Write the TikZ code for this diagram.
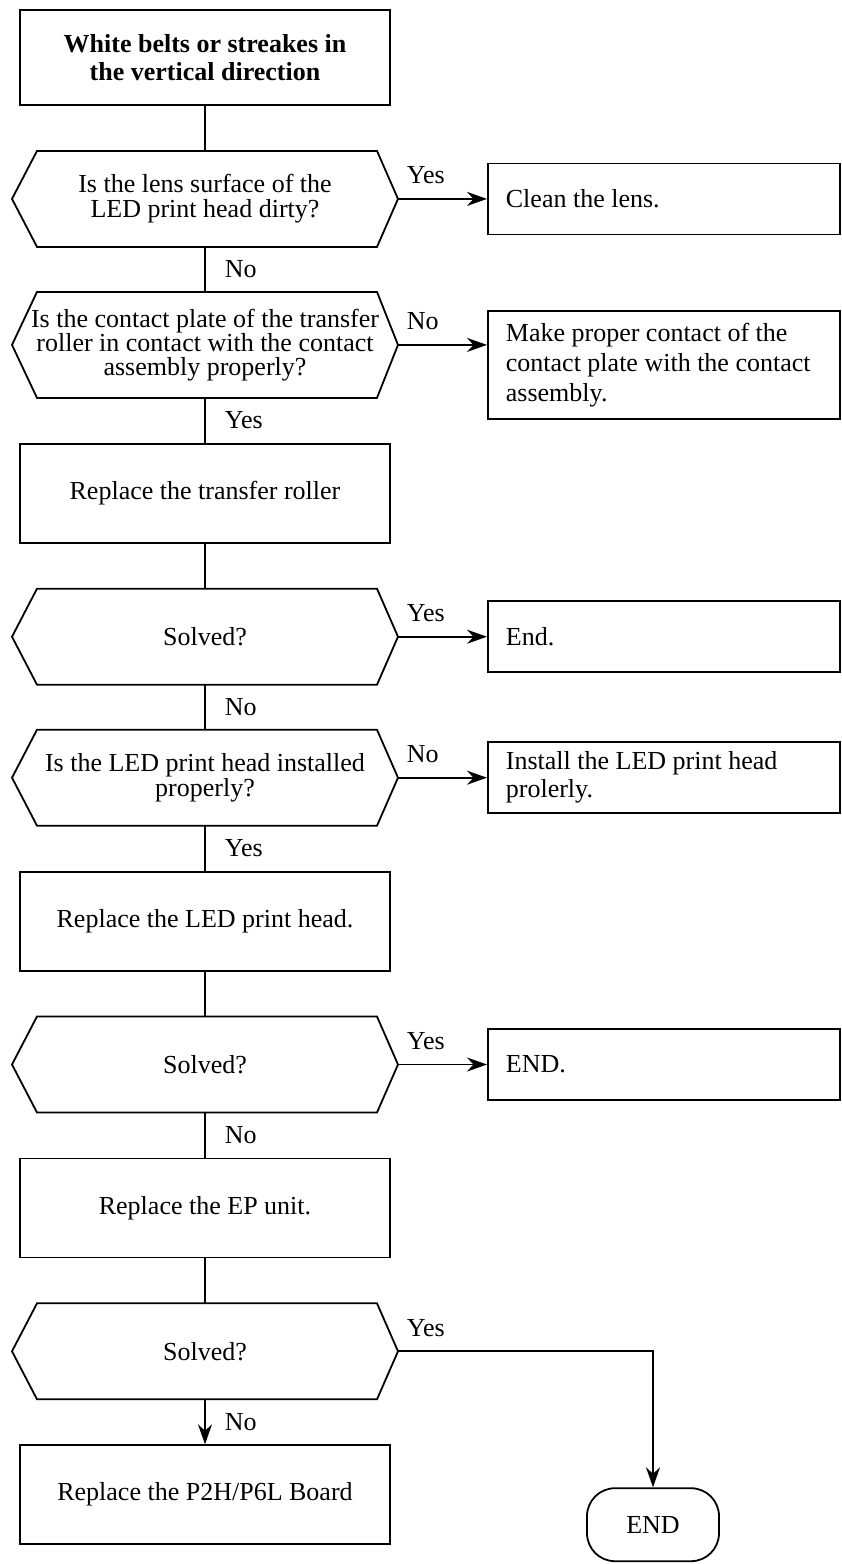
\documentclass[tikz,border=0pt]{standalone}
\usepackage{fontspec}
\setmainfont{Liberation Serif}
\usetikzlibrary{arrows.meta,positioning}

\begin{document}
\begin{tikzpicture}[
    font=\fontsize{13}{14}\selectfont,
    line width=0.9pt,
    topbox/.style={draw, minimum width=185pt, minimum height=47.5pt, align=center, font=\fontsize{13}{14}\selectfont\bfseries},
    procbox/.style={draw, minimum width=185pt, minimum height=49.5pt, align=center},
    query/.style={rectangle, minimum width=193pt, minimum height=48pt, align=center, inner sep=0pt, outer sep=0pt, font=\fontsize{13}{12.5}\selectfont},
    actbox/.style={draw, text width=158pt, inner xsep=9pt, minimum height=35.5pt, align=flush left},
    term/.style={draw, rounded corners=14pt, minimum width=66pt, minimum height=36.5pt},
    lbl/.style={inner sep=0pt},
    arrow/.style={-{Stealth[length=10pt, width=7pt]}}
]
\useasboundingbox (0,0) rectangle (420.5pt,-782pt);

% Main column
\node[topbox] (start) at (102.5pt,-28.75pt) {White belts or streakes in\\the vertical direction};
\node[query, below=22.5pt of start] (d1) {Is the lens surface of the\\LED print head dirty?};
\node[query, below=22.5pt of d1, minimum height=53pt, font=\fontsize{13}{12}\selectfont] (d2) {Is the contact plate of the transfer\\roller in contact with the contact\\assembly properly?};
\node[procbox, below=22.5pt of d2] (r1) {Replace the transfer roller};
\node[query, below=22.5pt of r1] (d3) {Solved?};
\node[query, below=22.5pt of d3] (d4) {Is the LED print head installed\\properly?};
\node[procbox, below=22.5pt of d4] (r2) {Replace the LED print head.};
\node[query, below=22.5pt of r2] (d5) {Solved?};
\node[procbox, below=22.5pt of d5] (r3) {Replace the EP unit.};
\node[query, below=22.5pt of r3] (d6) {Solved?};
\node[procbox, below=22.5pt of d6] (r4) {Replace the P2H/P6L Board};

% hexagon outlines of the questions
\foreach \q in {d1,d2,d3,d4,d5,d6}
  \draw (\q.west) -- ([xshift=12.5pt]\q.north west) -- ([xshift=-10.5pt]\q.north east) -- (\q.east)
    -- ([xshift=-10.5pt]\q.south east) -- ([xshift=12.5pt]\q.south west) -- cycle;

% Actions on the right
\node[actbox, right=44.5pt of d1] (a1) {Clean the lens.};
\node[actbox, right=44.5pt of d2, yshift=-10pt, minimum height=54pt, font=\fontsize{13}{15}\selectfont] (a2) {Make proper contact of the\\contact plate with the contact\\assembly.};
\node[actbox, right=44.5pt of d3] (a3) {End.};
\node[actbox, right=44.5pt of d4] (a4) {Install the LED print head\\prolerly.};
\node[actbox, right=44.5pt of d5] (a5) {END.};
\node[term, below=68pt of d6.east, xshift=127.5pt] (fin) {END};

% Connectors
\foreach \a/\b in {start/d1, r1/d3, r2/d5, r3/d6}
  \draw (\a) -- (\b);
\foreach \a/\b/\t in {d1/d2/No, d2/r1/Yes, d3/d4/No, d4/r2/Yes, d5/r3/No}
  \draw (\a) -- node[lbl, right=9.5pt] (l-\a) {\t} (\b);
\foreach \q/\a/\t in {d1/a1/Yes, d2/a2/No, d3/a3/Yes, d4/a4/No, d5/a5/Yes}
  \draw[arrow] (\q.east) -- node[lbl, pos=0, above right=7pt and 4pt] (m-\q) {\t} (\q.east -| \a.west);

\draw[arrow] (d6) -- node[lbl, right=9.5pt] (l-d6) {No} (r4);
\draw[arrow] (d6.east) -| node[lbl, pos=0, above right=7pt and 4pt] (m-d6) {Yes} (fin.north);

\end{tikzpicture}
\end{document}
